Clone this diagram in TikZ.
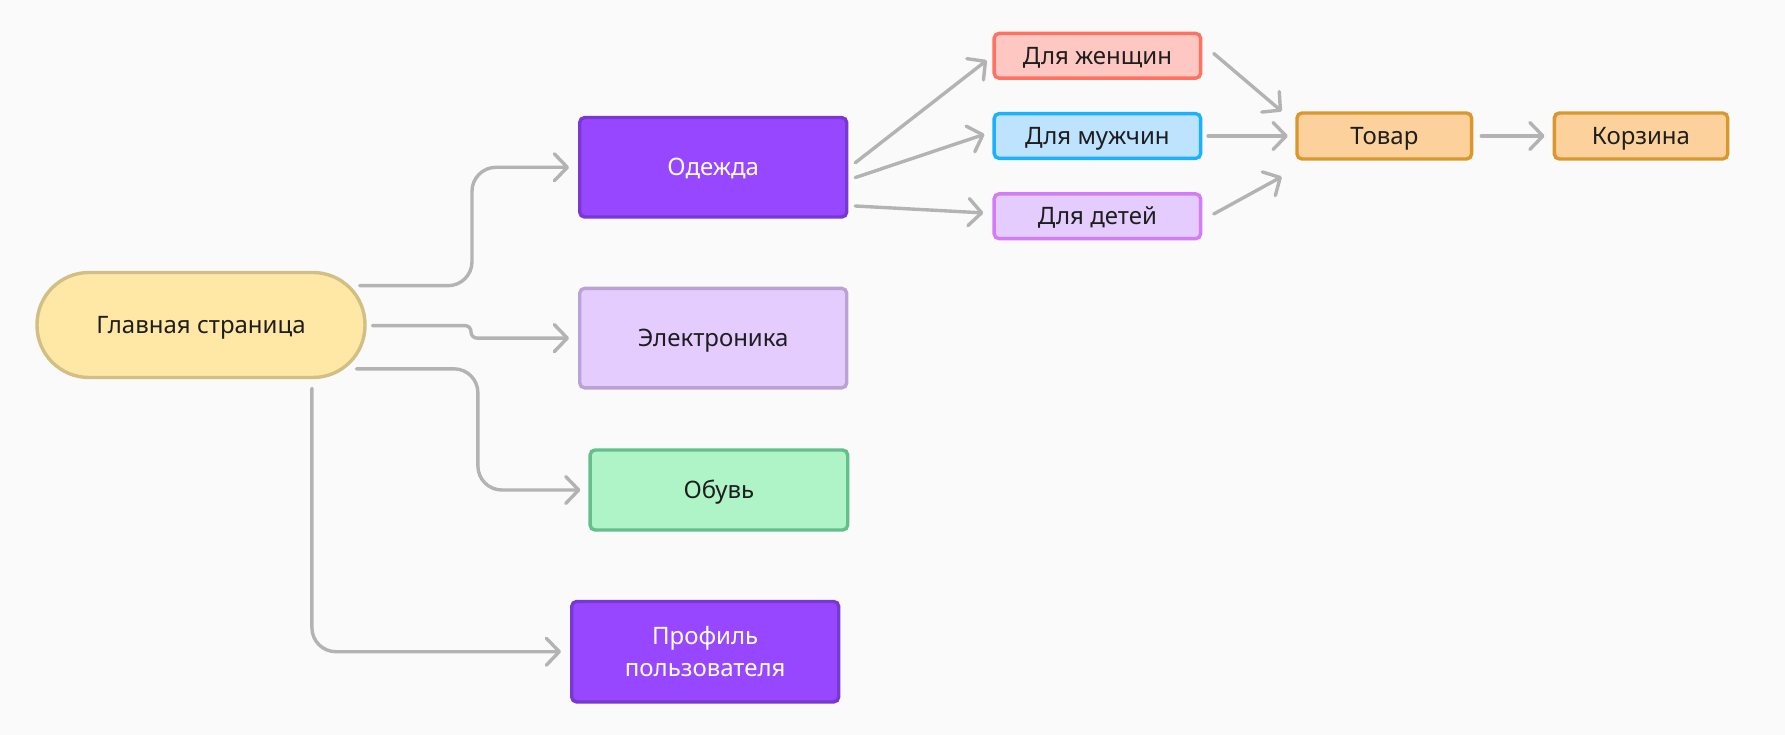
\documentclass[tikz,border=0pt]{standalone}
\usepackage{fontspec}
\setmainfont{Noto Sans}
\usetikzlibrary{arrows.meta,calc}
\definecolor{bg}{HTML}{FAFAFA}
\definecolor{gF}{HTML}{FFE8A6}
\definecolor{gB}{HTML}{D1BF84}
\definecolor{pF}{HTML}{9747FF}
\definecolor{pB}{HTML}{7A38D3}
\definecolor{eF}{HTML}{E4CCFF}
\definecolor{eB}{HTML}{BBA2D4}
\definecolor{oF}{HTML}{AEF4C6}
\definecolor{oB}{HTML}{63C08B}
\definecolor{wF}{HTML}{FFC7C2}
\definecolor{wB}{HTML}{FF7161}
\definecolor{mF}{HTML}{BDE3FF}
\definecolor{mB}{HTML}{1AB2FF}
\definecolor{dF}{HTML}{E4CCFF}
\definecolor{dB}{HTML}{D47BF8}
\definecolor{tF}{HTML}{FCD19C}
\definecolor{tB}{HTML}{D9982E}
\definecolor{lc}{HTML}{B3B3B3}
\definecolor{txt}{HTML}{1E1E1E}
\begin{document}
\begin{tikzpicture}[x=1pt,y=-1pt,
  box/.style={draw, line width=3.4pt, rounded corners=5pt, inner sep=0pt,
    font=\fontsize{24}{31.5}\selectfont, text=txt, align=center},
  one/.style={text height=17pt, text depth=0pt},
  conn/.style={draw=lc, line width=3.4pt, line cap=round, line join=round,
    -{Straight Barb[length=13pt,width=27pt,line cap=round,line join=round]}},
]
\fill[bg] (0,0) rectangle (1785,735);
\useasboundingbox (0,0) rectangle (1785,735);

\node[box, one, draw=gB, fill=gF, rounded corners=52pt, minimum width=328pt, minimum height=105pt] (g) at (201,325) {Главная страница};
\node[box, one, draw=pB, fill=pF, text=white, minimum width=267pt, minimum height=99.5pt] (od) at (713.2,167.3) {Одежда};
\node[box, one, draw=eB, fill=eF, minimum width=267pt, minimum height=99.5pt] (el) at (713.2,338.1) {Электроника};
\node[box, one, draw=oB, fill=oF, minimum width=257.6pt, minimum height=80pt] (ob) at (718.9,490) {Обувь};
\node[box, draw=pB, fill=pF, text=white, minimum width=267pt, minimum height=100.5pt] (pr) at (705.2,651.7) {Профиль\\пользователя};
\node[box, one, draw=wB, fill=wF, minimum width=206.5pt, minimum height=44.8pt] (w) at (1097.4,55.8) {Для женщин};
\node[box, one, draw=mB, fill=mF, minimum width=206.5pt, minimum height=44.8pt] (m) at (1097.4,136) {Для мужчин};
\node[box, one, draw=dB, fill=dF, minimum width=206.5pt, minimum height=44.8pt] (d) at (1097.4,216.3) {Для детей};
\node[box, one, draw=tB, fill=tF, minimum width=174.6pt, minimum height=46pt] (t) at (1384.3,136) {Товар};
\node[box, one, draw=tB, fill=tF, minimum width=173.4pt, minimum height=46pt] (k) at (1641,136) {Корзина};

\draw[conn, rounded corners=24pt] ($(g.east)+(-7,-39.3)$) -| ($(od.west)+(-106,0)$) -- ($(od.west)+(-9,0)$);
\draw[conn, rounded corners=6pt] ($(g.east)+(5.7,0.6)$) -| ($(el.west)+(-107,0)$) -- ($(el.west)+(-9,0)$);
\draw[conn, rounded corners=24pt] ($(g.east)+(-10.3,43.8)$) -| ($(ob.west)+(-110.5,0)$) -- ($(ob.west)+(-8,0)$);
\draw[conn, rounded corners=24pt] ($(g.south)+(110.9,9.1)$) |- ($(pr.west)+(-9,0)$);

\draw[conn] ($(od.east)+(6.8,-4.5)$) -- ($(w.west)+(-5.7,4.5)$);
\draw[conn] ($(od.east)+(6.8,10.3)$) -- ($(m.west)+(-8,-1.7)$);
\draw[conn] ($(od.east)+(6.8,38.7)$) -- ($(d.west)+(-9.1,-3.4)$);

\draw[conn] ($(w.east)+(11.4,-2.3)$) -- ($(t.north west)+(-13.6,0)$);
\draw[conn] ($(m.east)+(5.7,0)$) -- ($(t.west)+(-7.5,0)$);
\draw[conn] ($(d.east)+(11.4,-2.3)$) -- ($(t.south west)+(-13.6,16)$);
\draw[conn] ($(t.east)+(8,0)$) -- ($(k.west)+(-8,0)$);
\end{tikzpicture}
\end{document}
